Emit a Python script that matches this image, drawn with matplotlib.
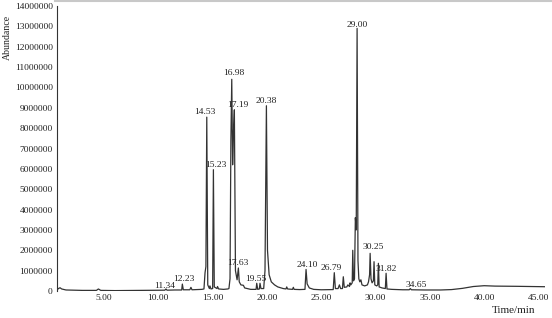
import numpy as np
from matplotlib import pyplot as plt
from matplotlib.ticker import FormatStrFormatter, MultipleLocator
from matplotlib.lines import Line2D

# chromatogram trace (time in min, abundance in counts)
time_min = [0.67, 0.8, 0.95, 1.1, 1.5, 3.0, 4.3, 4.48, 4.7, 6.0, 8.0, 10.0,
            10.6, 10.7, 10.8, 11.5, 12.15, 12.21, 12.3, 12.9, 13.0, 13.1,
            13.5, 14.0, 14.2, 14.3, 14.38, 14.46, 14.55, 14.7, 14.75, 14.85,
            15.0, 15.07, 15.15, 15.4, 15.45, 15.55, 16.0, 16.4, 16.5, 16.6,
            16.68, 16.76, 16.84, 16.92, 17.0, 17.1, 17.25, 17.37, 17.45, 17.6,
            17.83, 17.95, 18.5, 19.0, 19.06, 19.15, 19.3, 19.36, 19.45, 19.7,
            19.82, 19.88, 19.95, 20.05, 20.2, 20.4, 20.7, 21.0, 21.5, 21.75,
            21.82, 21.9, 22.35, 22.43, 22.5, 23.0, 23.5, 23.6, 23.7, 23.9,
            24.3, 25.0, 26.1, 26.2, 26.3, 26.55, 26.67, 26.78, 26.95, 27.03,
            27.12, 27.35, 27.45, 27.6, 27.65, 27.72, 27.85, 27.9, 27.97, 28.06,
            28.14, 28.22, 28.3, 28.38, 28.46, 28.55, 28.65, 28.75, 29.0, 29.25,
            29.35, 29.45, 29.5, 29.58, 29.68, 29.8, 29.86, 29.93, 30.1, 30.2,
            30.26, 30.33, 30.6, 30.9, 30.97, 31.05, 31.5, 32.5, 33.1, 33.2,
            33.3, 34.5, 36.0, 37.0, 38.0, 39.0, 40.0, 41.0, 43.0, 45.6]

abundance_m = [0.05, 0.12, 0.16, 0.1, 0.05, 0.03, 0.03, 0.1, 0.03, 0.02, 0.03, 0.04,
               0.04, 0.1, 0.04, 0.05, 0.05, 0.34, 0.06, 0.06, 0.18, 0.06,
               0.07, 0.08, 0.1, 0.9, 1.2, 8.54, 0.3, 0.12, 0.25, 0.1,
               0.12, 5.96, 0.2, 0.12, 0.22, 0.1, 0.08, 0.1, 0.12, 0.6,
               7.4, 10.4, 6.2, 7.8, 8.9, 1.0, 0.55, 1.13, 0.45, 0.3,
               0.28, 0.15, 0.08, 0.08, 0.38, 0.08, 0.1, 0.38, 0.12, 0.12,
               1.0, 5.0, 9.1, 2.0, 0.8, 0.45, 0.3, 0.2, 0.12, 0.1,
               0.2, 0.1, 0.08, 0.18, 0.08, 0.07, 0.08, 1.06, 0.35, 0.15,
               0.08, 0.06, 0.07, 0.9, 0.12, 0.12, 0.3, 0.12, 0.12, 0.7,
               0.18, 0.2, 0.3, 0.22, 0.4, 0.3, 0.4, 2.0, 0.5, 0.6,
               3.6, 3.0, 12.9, 1.5, 0.6, 0.45, 0.55, 0.3, 0.25, 0.3,
               0.45, 0.8, 1.85, 0.6, 0.4, 0.5, 1.44, 0.3, 0.25, 0.3,
               1.36, 0.2, 0.15, 0.12, 0.87, 0.1, 0.08, 0.06, 0.06, 0.12,
               0.06, 0.05, 0.05, 0.07, 0.13, 0.22, 0.26, 0.24, 0.23, 0.21]

# peak labels and where their text sits
peak_labels = ['11.34', '12.23', '14.53', '15.23', '16.98', '17.19', '17.63', '19.55',
               '20.38', '24.10', '26.79', '29.00', '30.25', '31.82', '34.65']
label_time = [10.55, 12.37, 14.30, 15.31, 16.91, 17.28, 17.31, 19.0,
              19.89, 23.72, 25.87, 28.30, 29.80, 30.97, 33.73]
label_abund_m = [0.26, 0.57, 8.79, 6.18, 10.72, 9.15, 1.36, 0.57,
                 9.31, 1.30, 1.13, 13.09, 2.17, 1.06, 0.29]

x_ticks = [5, 10, 15, 20, 25, 30, 35, 40, 45]


def main():
    plt.rcParams['font.family'] = ['Liberation Serif', 'DejaVu Serif']
    fs = 6.8
    line_col = '#333333'

    fig = plt.figure(figsize=(5.52, 3.18), dpi=100)
    ax = fig.add_axes([57 / 552, 1 - 291 / 318, 488 / 552, 285 / 318])

    abundance = np.array(abundance_m) * 1e6
    ax.plot(time_min, abundance, color=line_col, lw=0.9)

    for txt, t, a in zip(peak_labels, label_time, label_abund_m):
        ax.text(t, a * 1e6, txt, ha='center', va='center', fontsize=fs, color='#222222')

    ax.set_xlim(0.67, 45.6)
    ax.set_ylim(0, 14000000)
    ax.set_xticks(x_ticks)
    ax.xaxis.set_major_formatter(FormatStrFormatter('%.2f'))
    ax.yaxis.set_major_locator(MultipleLocator(1000000))
    ax.yaxis.set_major_formatter(FormatStrFormatter('%d'))
    ax.tick_params(length=0, labelsize=fs, colors='#222222')
    ax.tick_params(axis='y', pad=3)
    ax.tick_params(axis='x', pad=2)

    for side in ['top', 'right', 'bottom']:
        ax.spines[side].set_visible(False)
    ax.spines['left'].set_color(line_col)
    ax.spines['left'].set_linewidth(0.8)

    ax.set_ylabel('Abundance', fontsize=7.1, color='#222222')
    ax.yaxis.set_label_coords(-0.1025, 0.891)
    ax.yaxis.label.set_va('center')
    ax.set_xlabel('Time/min', fontsize=8, color='#222222')
    ax.xaxis.set_label_coords(0.936, -0.0667)
    ax.xaxis.label.set_va('center')

    # thin grey border strip along the top of the image
    fig.add_artist(Line2D([55 / 552, 1], [0.997, 0.997], color='#c8c8c8', lw=1.5))

    fig.savefig('out.png', dpi=100)


if __name__ == '__main__':
    main()
